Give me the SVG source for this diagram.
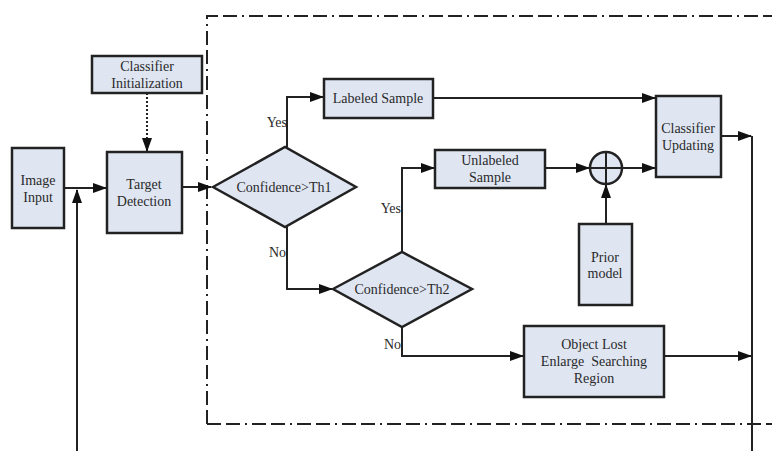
<svg xmlns="http://www.w3.org/2000/svg" width="772" height="451" viewBox="0 0 772 451">
<defs>
<marker id="ah" markerWidth="14" markerHeight="10" refX="13" refY="5" orient="auto" markerUnits="userSpaceOnUse"><path d="M0,0 L14,5 L0,10 z" fill="#111"/></marker>
<style>
.box{fill:#dfe6f2;stroke:#222;stroke-width:2.5}
.ln{fill:none;stroke:#222;stroke-width:2}
.t{font-family:"Liberation Serif","Times New Roman",serif;font-size:14px;fill:#2a2a2a;text-anchor:middle}
.lb{font-family:"Liberation Serif","Times New Roman",serif;font-size:14px;fill:#2a2a2a;text-anchor:end}
.frame{fill:none;stroke:#222;stroke-width:2;stroke-dasharray:14 5 14 5 2 5}
</style>
</defs>
<rect width="772" height="451" fill="#fff"/>
<path class="frame" d="M207,424 L207,16 L772,16"/>
<path class="frame" d="M207,424 L772,424"/>
<g id="connectors">
<path class="ln" d="M147,93 L147,151" stroke-dasharray="2 2" marker-end="url(#ah)"/>
<path class="ln" d="M64,188 L106,188" marker-end="url(#ah)"/>
<path class="ln" d="M77,451 L77,190" marker-end="url(#ah)"/>
<path class="ln" d="M182,187 L211,187" marker-end="url(#ah)"/>
<path class="ln" d="M287,147 L287,97 L323,97" marker-end="url(#ah)"/>
<path class="ln" d="M433,98 L655,98" marker-end="url(#ah)"/>
<path class="ln" d="M287,227 L287,289 L332,289" marker-end="url(#ah)"/>
<path class="ln" d="M402,252 L402,168 L434,168" marker-end="url(#ah)"/>
<path class="ln" d="M545,168 L589,168" marker-end="url(#ah)"/>
<path class="ln" d="M622,168 L655,168" marker-end="url(#ah)"/>
<path class="ln" d="M606,224 L606,185" marker-end="url(#ah)"/>
<path class="ln" d="M402,327 L402,356 L523,356" marker-end="url(#ah)"/>
<path class="ln" d="M664,356 L751,356" marker-end="url(#ah)"/>
<path class="ln" d="M721,136 L751,136" marker-end="url(#ah)"/>
<path class="ln" d="M752,136 L752,451"/>
</g>
<g id="image-input"><rect class="box" x="12" y="148" width="52" height="80"/><text class="t" x="38" y="185">Image</text><text class="t" x="38" y="202">Input</text></g>
<g id="classifier-init"><rect class="box" x="92" y="56" width="110" height="37"/><text class="t" x="147" y="71">Classifier</text><text class="t" x="147" y="88">Initialization</text></g>
<g id="target-detection"><rect class="box" x="107" y="152" width="75" height="81"/><text class="t" x="144" y="189">Target</text><text class="t" x="144" y="206">Detection</text></g>
<g id="decision1"><path class="box" d="M213,187 L285,147 L356,187 L285,227 z"/><text class="t" x="284" y="192">Confidence&gt;Th1</text></g>
<g id="labeled-sample"><rect class="box" x="324" y="79" width="109" height="39"/><text class="t" x="378" y="103">Labeled Sample</text></g>
<g id="classifier-updating"><rect class="box" x="656" y="96" width="65" height="81"/><text class="t" x="688" y="133">Classifier</text><text class="t" x="688" y="150">Updating</text></g>
<g id="unlabeled-sample"><rect class="box" x="435" y="150" width="110" height="38"/><text class="t" x="490" y="165">Unlabeled</text><text class="t" x="490" y="182">Sample</text></g>
<g id="sum"><circle class="box" cx="606" cy="168" r="16"/><path class="ln" d="M590,168 L622,168 M606,152 L606,184"/></g>
<g id="prior-model"><rect class="box" x="579" y="224" width="53" height="81"/><text class="t" x="605" y="262">Prior</text><text class="t" x="605" y="278">model</text></g>
<g id="decision2"><path class="box" d="M333,289 L402,252 L472,289 L402,327 z"/><text class="t" x="402" y="294">Confidence&gt;Th2</text></g>
<g id="object-lost"><rect class="box" x="524" y="326" width="140" height="71"/><text class="t" x="594" y="349">Object Lost</text><text class="t" x="594" y="366" xml:space="preserve">Enlarge  Searching</text><text class="t" x="594" y="383">Region</text></g>
<g id="labels">
<text class="lb" x="287" y="127">Yes</text>
<text class="lb" x="286" y="257">No</text>
<text class="lb" x="401" y="213">Yes</text>
<text class="lb" x="401" y="349">No</text>
</g>
</svg>
